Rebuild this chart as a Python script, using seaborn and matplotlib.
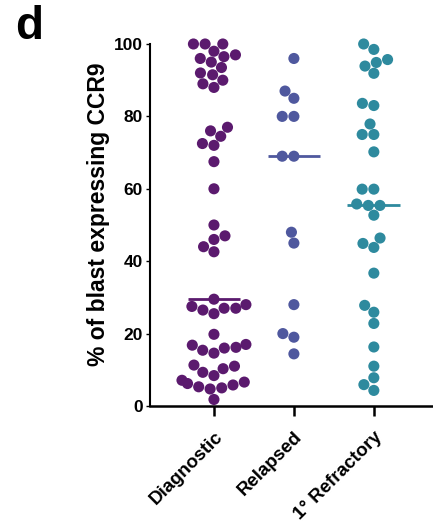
import numpy as np
import pandas as pd
import matplotlib
matplotlib.use("Agg")
import matplotlib.pyplot as plt
import matplotlib.transforms as mtransforms
import seaborn as sns

sns.set_theme(style="ticks")
plt.rcParams["font.family"] = ["Liberation Sans", "DejaVu Sans"]
plt.rcParams["font.weight"] = "bold"
plt.rcParams["text.color"] = "black"
plt.rcParams["axes.labelcolor"] = "black"
plt.rcParams["xtick.color"] = "black"
plt.rcParams["ytick.color"] = "black"

groups = ["Diagnostic", "Relapsed", "1° Refractory"]
colors = ["#5B1A6E", "#4F589E", "#2E8A9E"]

diagnostic = [100, 100, 100, 98, 97, 96.5, 96, 95, 93.5, 92, 91.5, 90, 89, 88,
              77, 76, 74.5, 72.5, 72, 67.5, 60, 50, 47, 46, 44, 42.6,
              29.5, 28, 27.5, 27, 27, 26.5, 25.5,
              19.8, 17.0, 16.8, 16.2, 16.0, 15.4, 14.6,
              11.3, 11.0, 10.3, 9.3, 8.4,
              7.1, 6.6, 6.2, 5.8, 5.3, 5.0, 4.7, 1.8]
relapsed = [96, 87, 85, 80, 80, 69, 69, 48, 45, 28, 20, 19, 14.4]
refractory = [100, 98.5, 95.7, 94.9, 93.9, 91.9, 83.6, 83.0, 77.9, 75, 75, 70.2,
              59.9, 59.9, 55.8, 55.4, 55.4, 52.7, 46.4, 44.9, 43.8, 36.7,
              27.8, 25.9, 22.8, 16.3, 11.0, 7.8, 5.9, 4.3]

df = pd.DataFrame({
    "group": np.repeat(groups, [len(diagnostic), len(relapsed), len(refractory)]),
    "value": diagnostic + relapsed + refractory,
})

fig = plt.figure(figsize=(4.33, 5.25), dpi=100)
ax = fig.add_axes([0.3464, 0.2267, 0.6536, 0.6895])

sns.swarmplot(data=df, x="group", y="value", hue="group", order=groups,
              hue_order=groups, palette=colors, size=8, linewidth=0,
              legend=False, clip_on=False, zorder=3, ax=ax)

medians = df.groupby("group", sort=False)["value"].median().reindex(groups)
for i, (g, c) in enumerate(zip(groups, colors)):
    ax.hlines(medians[g], i - 0.33, i + 0.33, color=c, lw=2, zorder=2)

ax.set_ylim(0, 100)
ax.set_xlim(-0.8, 2.74)
ax.set_yticks([0, 20, 40, 60, 80, 100])
ax.set_xlabel("")
ax.set_ylabel("% of blast expressing CCR9", fontsize=16.5, fontweight="bold")
ax.yaxis.set_label_coords(-0.14, 0.53)

for lbl in ax.get_yticklabels():
    lbl.set_fontsize(12.5)
    lbl.set_fontweight("bold")
ax.set_xticks(range(len(groups)))
ax.set_xticklabels(groups, rotation=45, ha="right", va="top",
                   rotation_mode="anchor", fontsize=13.5, fontweight="bold")
shift = mtransforms.ScaledTranslation(-4 / 100, -1 / 100, fig.dpi_scale_trans)
for lbl in ax.get_xticklabels():
    lbl.set_transform(lbl.get_transform() + shift)

ax.tick_params(axis="y", length=3, width=1, pad=2)
ax.tick_params(axis="x", length=7, width=1.8, pad=9)
sns.despine(ax=ax, top=True, right=True)
ax.spines["left"].set_linewidth(1.5)
ax.spines["bottom"].set_linewidth(1.8)
ax.spines["left"].set_color("black")
ax.spines["bottom"].set_color("black")

fig.text(0.035, 0.99, "d", fontsize=33, fontweight="bold", va="top", ha="left",
         color="black")

fig.savefig("out.png", dpi=100)
